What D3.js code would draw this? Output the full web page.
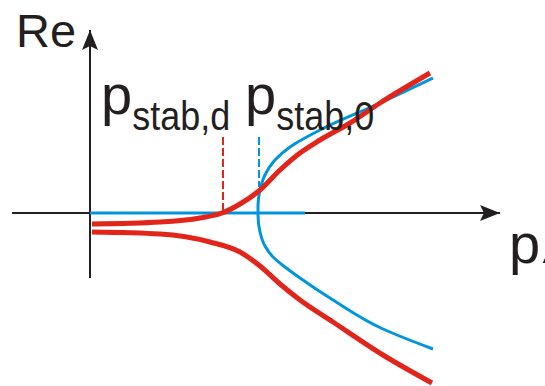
<!DOCTYPE html>
<html>
<head>
<meta charset="utf-8">
<script src="https://cdn.jsdelivr.net/npm/d3@7"></script>
<style>
  html, body { margin: 0; padding: 0; background: #fff; }
  svg { display: block; }
  text { font-family: "Liberation Sans", Arial, sans-serif; fill: #231f20; }
</style>
</head>
<body>
<svg id="chart" width="545" height="386"></svg>
<script>
// Root loci of the real parts versus the parameter p
// Each branch is listed as [p, Re] pairs, ordered along the curve.
const blueBranch = [
  [8.575, 3.375], [7.25, 2.75], [5.75, 2.075], [5.0, 1.65], [4.625, 1.325],
  [4.375, 0.95], [4.25, 0.575], [4.2, 0.2], [4.2, -0.05], [4.25, -0.475],
  [4.375, -0.825], [4.575, -1.1], [4.875, -1.35], [5.25, -1.625],
  [6.075, -2.175], [7.325, -2.9], [8.575, -3.4]
];
const blueFlat = [[0, 0], [5.375, 0]];
const redUpper = [
  [0.05, -0.275], [1.75, -0.225], [2.75, -0.125], [3.3, 0], [3.75, 0.225],
  [4.25, 0.575], [4.75, 1.075], [5.25, 1.5], [5.75, 1.825], [6.5, 2.25],
  [7.25, 2.75], [8.5, 3.5]
];
const redLower = [
  [0.05, -0.475], [1.75, -0.525], [3.0, -0.725], [3.75, -0.975],
  [4.25, -1.325], [4.75, -1.775], [5.25, -2.175], [6.075, -2.725],
  [7.325, -3.55], [8.55, -4.25]
];
// Stability thresholds: p_stab,d and p_stab,0
const thresholds = [
  { name: "d", p: 3.325, from: 0, to: 1.9, color: "#e1251b" },
  { name: "0", p: 4.225, from: 0.65, to: 1.9, color: "#0096db" }
];
const axisX = [-1.95, 10.25];
const axisY = [-1.625, 4.575];

const svg = d3.select("#chart");
const x = d3.scaleLinear().domain([0, 10]).range([90, 490]);
const y = d3.scaleLinear().domain([0, 1]).range([213, 173]);

const ink = "#231f20";
const red = "#e1251b";
const blue = "#0096db";

// Arrow heads
const defs = svg.append("defs");
defs.append("marker")
  .attr("id", "arrow")
  .attr("viewBox", "0 0 20 16")
  .attr("refX", 20).attr("refY", 8)
  .attr("markerWidth", 20).attr("markerHeight", 16)
  .attr("markerUnits", "userSpaceOnUse")
  .attr("orient", "auto")
  .append("path")
  .attr("d", "M0,0 L20,8 L0,16 L4,8 Z")
  .attr("fill", ink);

// Axes
svg.append("line")
  .attr("x1", x(axisX[0])).attr("x2", x(axisX[1]))
  .attr("y1", y(0)).attr("y2", y(0))
  .attr("stroke", ink).attr("stroke-width", 2)
  .attr("marker-end", "url(#arrow)");
svg.append("line")
  .attr("x1", x(0)).attr("x2", x(0))
  .attr("y1", y(axisY[0])).attr("y2", y(axisY[1]))
  .attr("stroke", ink).attr("stroke-width", 2)
  .attr("marker-end", "url(#arrow)");

// The blue branch turns back in p, so it is drawn as p = f(Re)
const lineY = d3.line()
  .x(d => x(d[0])).y(d => y(d[1]))
  .curve(d3.curveMonotoneY);
const lineX = d3.line()
  .x(d => x(d[0])).y(d => y(d[1]))
  .curve(d3.curveMonotoneX);

// Dashed threshold markers
svg.selectAll("line.thr").data(thresholds).join("line")
  .attr("class", "thr")
  .attr("x1", d => x(d.p)).attr("x2", d => x(d.p))
  .attr("y1", d => y(d.to)).attr("y2", d => y(d.from))
  .attr("stroke", d => d.color).attr("stroke-width", 2)
  .attr("stroke-dasharray", "8,3");

// Blue loci
svg.append("path").datum(blueFlat).attr("d", lineX)
  .attr("fill", "none").attr("stroke", blue).attr("stroke-width", 3);
svg.append("path").datum(blueBranch).attr("d", lineY)
  .attr("fill", "none").attr("stroke", blue).attr("stroke-width", 3);

// Red loci
[redUpper, redLower].forEach(b => {
  svg.append("path").datum(b).attr("d", lineX)
    .attr("fill", "none").attr("stroke", red).attr("stroke-width", 5)
    .attr("stroke-linecap", "butt");
});

// Axis labels
svg.append("text").attr("x", 16).attr("y", 47)
  .attr("font-size", 47).text("Re");

const pLabel = (px, py, sub) => {
  const t = svg.append("text").attr("x", px).attr("y", py).attr("font-size", 56);
  t.append("tspan").text("p");
  if (sub) t.append("tspan").attr("dy", 16).attr("font-size", 41)
    .attr("textLength", 98).attr("lengthAdjust", "spacingAndGlyphs").text(sub);
  return t;
};
pLabel(101, 114, "stab,d");
pLabel(245, 114, "stab,0");
pLabel(509, 263, null).append("tspan").attr("dx", 2).text("λ");
</script>
</body>
</html>
